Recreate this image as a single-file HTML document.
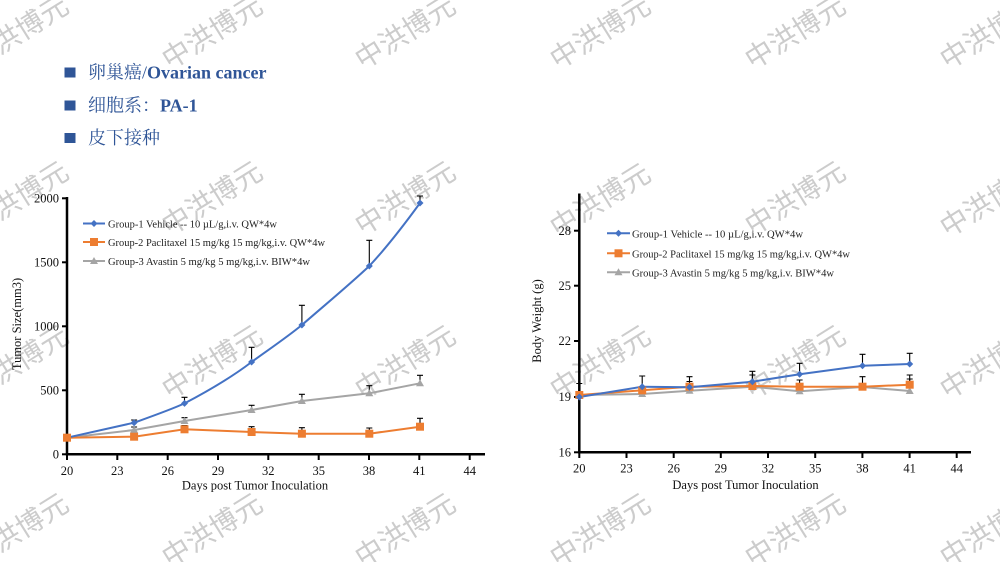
<!DOCTYPE html>
<html>
<head>
<meta charset="utf-8">
<style>
  html, body { margin: 0; padding: 0; background: #fff; }
  body { width: 1000px; height: 562px; overflow: hidden; }
  svg { display: block; }
  .wm { font-family: "Noto Sans CJK SC", "WenQuanYi Zen Hei", sans-serif; font-size: 28px; fill: #cccccc; }
  .hd { font-family: "Liberation Serif", "Noto Serif CJK SC", serif; font-size: 18px; fill: #2F5597; }
  .tk { font-family: "Liberation Serif", serif; font-size: 12.5px; fill: #111; }
  .lg { font-family: "Liberation Serif", serif; font-size: 11px; fill: #222; }
</style>
</head>
<body>
<svg width="1000" height="562" viewBox="0 0 1000 562" xmlns="http://www.w3.org/2000/svg">
  <!-- watermarks -->
  <g class="wm" text-anchor="middle">
    <text transform="translate(18,32) rotate(-32)" dy="10">中洪博元</text>
    <text transform="translate(212,32) rotate(-32)" dy="10">中洪博元</text>
    <text transform="translate(405,32) rotate(-32)" dy="10">中洪博元</text>
    <text transform="translate(600,32) rotate(-32)" dy="10">中洪博元</text>
    <text transform="translate(795,32) rotate(-32)" dy="10">中洪博元</text>
    <text transform="translate(990,32) rotate(-32)" dy="10">中洪博元</text>

    <text transform="translate(18,198) rotate(-32)" dy="10">中洪博元</text>
    <text transform="translate(212,198) rotate(-32)" dy="10">中洪博元</text>
    <text transform="translate(405,198) rotate(-32)" dy="10">中洪博元</text>
    <text transform="translate(600,200) rotate(-32)" dy="10">中洪博元</text>
    <text transform="translate(795,198) rotate(-32)" dy="10">中洪博元</text>
    <text transform="translate(990,200) rotate(-32)" dy="10">中洪博元</text>

    <text transform="translate(18,362) rotate(-32)" dy="10">中洪博元</text>
    <text transform="translate(212,362) rotate(-32)" dy="10">中洪博元</text>
    <text transform="translate(405,362) rotate(-32)" dy="10">中洪博元</text>
    <text transform="translate(600,362) rotate(-32)" dy="10">中洪博元</text>
    <text transform="translate(795,362) rotate(-32)" dy="10">中洪博元</text>
    <text transform="translate(990,362) rotate(-32)" dy="10">中洪博元</text>

    <text transform="translate(18,530) rotate(-32)" dy="10">中洪博元</text>
    <text transform="translate(212,530) rotate(-32)" dy="10">中洪博元</text>
    <text transform="translate(405,530) rotate(-32)" dy="10">中洪博元</text>
    <text transform="translate(600,530) rotate(-32)" dy="10">中洪博元</text>
    <text transform="translate(795,530) rotate(-32)" dy="10">中洪博元</text>
    <text transform="translate(990,530) rotate(-32)" dy="10">中洪博元</text>
  </g>

  <!-- header bullets -->
  <rect x="64.5" y="67.5" width="11" height="10" fill="#2F5597"/>
  <rect x="64.5" y="100.5" width="11" height="10" fill="#2F5597"/>
  <rect x="64.5" y="133" width="11" height="10" fill="#2F5597"/>
  <text class="hd" x="88" y="78.5">卵巢癌/<tspan font-weight="bold">Ovarian cancer</tspan></text>
  <text class="hd" x="88" y="111.5">细胞系：<tspan font-weight="bold">PA-1</tspan></text>
  <text class="hd" x="88" y="144">皮下接种</text>

  <!-- ============ LEFT CHART ============ -->
  <g stroke="#000" fill="none">
    <line x1="67" y1="197" x2="67" y2="455.5" stroke-width="2.5"/>
    <line x1="65.8" y1="454.3" x2="485" y2="454.3" stroke-width="2.5"/>
    <!-- y ticks -->
    <line x1="62" y1="454.3" x2="67" y2="454.3" stroke-width="2"/>
    <line x1="62" y1="390.3" x2="67" y2="390.3" stroke-width="2"/>
    <line x1="62" y1="326.3" x2="67" y2="326.3" stroke-width="2"/>
    <line x1="62" y1="262.3" x2="67" y2="262.3" stroke-width="2"/>
    <line x1="62" y1="198.3" x2="67" y2="198.3" stroke-width="2"/>
    <!-- x ticks -->
    <line x1="67" y1="454" x2="67" y2="460" stroke-width="2"/>
    <line x1="117.3" y1="454" x2="117.3" y2="460" stroke-width="2"/>
    <line x1="167.7" y1="454" x2="167.7" y2="460" stroke-width="2"/>
    <line x1="218" y1="454" x2="218" y2="460" stroke-width="2"/>
    <line x1="268.3" y1="454" x2="268.3" y2="460" stroke-width="2"/>
    <line x1="318.7" y1="454" x2="318.7" y2="460" stroke-width="2"/>
    <line x1="369" y1="454" x2="369" y2="460" stroke-width="2"/>
    <line x1="419.3" y1="454" x2="419.3" y2="460" stroke-width="2"/>
    <line x1="469.7" y1="454" x2="469.7" y2="460" stroke-width="2"/>
  </g>
  <g class="tk" text-anchor="end">
    <text x="59" y="458.5">0</text>
    <text x="59" y="394.5">500</text>
    <text x="59" y="330.5">1000</text>
    <text x="59" y="266.5">1500</text>
    <text x="59" y="202.5">2000</text>
  </g>
  <g class="tk" text-anchor="middle">
    <text x="67" y="475">20</text>
    <text x="117.3" y="475">23</text>
    <text x="167.7" y="475">26</text>
    <text x="218" y="475">29</text>
    <text x="268.3" y="475">32</text>
    <text x="318.7" y="475">35</text>
    <text x="369" y="475">38</text>
    <text x="419.3" y="475">41</text>
    <text x="469.7" y="475">44</text>
    <text x="255" y="489.5">Days post Tumor Inoculation</text>
  </g>
  <text class="tk" text-anchor="middle" font-size="12" transform="translate(21,324) rotate(-90)">Tumor Size(mm3)</text>

  <!-- left error bars -->
  <g stroke="#000" stroke-width="1.1" fill="none">
    <!-- G1 -->
    <path d="M134.1 422.7V420M131.1 420H137.1"/>
    <path d="M184.5 403.4V397.3M181.5 397.3H187.5"/>
    <path d="M251.6 362V347.3M248.6 347.3H254.6"/>
    <path d="M301.9 325V305.3M298.9 305.3H304.9"/>
    <path d="M369.3 266V240.3M366.3 240.3H372.3"/>
    <path d="M420 203V196M417 196H423"/>
    <!-- G3 -->
    <path d="M134.1 430V427M131.1 427H137.1"/>
    <path d="M184.5 421V417.7M181.5 417.7H187.5"/>
    <path d="M251.6 410V405.3M248.6 405.3H254.6"/>
    <path d="M301.9 401V394.3M298.9 394.3H304.9"/>
    <path d="M369.3 393.3V385.7M366.3 385.7H372.3"/>
    <path d="M420 383.3V375.3M417 375.3H423"/>
    <!-- G2 -->
    <path d="M184.5 429.3V425.5M181.5 425.5H187.5"/>
    <path d="M251.6 432V426.7M248.6 426.7H254.6"/>
    <path d="M301.9 433.7V427.7M298.9 427.7H304.9"/>
    <path d="M369.3 433.7V428M366.3 428H372.3"/>
    <path d="M420 426.7V418.3M417 418.3H423"/>
  </g>

  <!-- left series -->
  <polyline fill="none" stroke="#A5A5A5" stroke-width="2" points="67,437.7 134.1,430 184.5,421 251.6,410 301.9,401 369.3,393.3 420,383.3"/>
  <polyline fill="none" stroke="#ED7D31" stroke-width="2" points="67,437.7 134.1,436.7 184.5,429.3 251.6,432 301.9,433.7 369.3,433.7 420,426.7"/>
  <path fill="none" stroke="#4472C4" stroke-width="2" d="M67,437.7 L134.1,422.7 C150,417 170,410 184.5,403.4 C210,390 232,377 251.6,362 C268,350 286,338 301.9,325 C326,304 348,286 369.3,266 C388,246 404,225 420,203"/>

  <g fill="#A5A5A5">
    <path d="M67 433.7l4 7h-8z"/><path d="M134.1 426l4 7h-8z"/><path d="M184.5 417l4 7h-8z"/><path d="M251.6 406l4 7h-8z"/><path d="M301.9 397l4 7h-8z"/><path d="M369.3 389.3l4 7h-8z"/><path d="M420 379.3l4 7h-8z"/>
  </g>
  <g fill="#ED7D31">
    <rect x="63" y="433.7" width="8" height="8"/><rect x="130.1" y="432.7" width="8" height="8"/><rect x="180.5" y="425.3" width="8" height="8"/><rect x="247.6" y="428" width="8" height="8"/><rect x="297.9" y="429.7" width="8" height="8"/><rect x="365.3" y="429.7" width="8" height="8"/><rect x="416" y="422.7" width="8" height="8"/>
  </g>
  <g fill="#4472C4">
    <path d="M134.1 419.2l3.5 3.5-3.5 3.5-3.5-3.5z"/><path d="M184.5 399.9l3.5 3.5-3.5 3.5-3.5-3.5z"/><path d="M251.6 358.5l3.5 3.5-3.5 3.5-3.5-3.5z"/><path d="M301.9 321.5l3.5 3.5-3.5 3.5-3.5-3.5z"/><path d="M369.3 262.5l3.5 3.5-3.5 3.5-3.5-3.5z"/><path d="M420 199.5l3.5 3.5-3.5 3.5-3.5-3.5z"/>
  </g>

  <!-- left legend -->
  <line x1="83" y1="223.5" x2="105" y2="223.5" stroke="#4472C4" stroke-width="2"/>
  <path d="M94 220l3.5 3.5-3.5 3.5-3.5-3.5z" fill="#4472C4"/>
  <line x1="83" y1="242" x2="105" y2="242" stroke="#ED7D31" stroke-width="2"/>
  <rect x="90" y="238" width="8" height="8" fill="#ED7D31"/>
  <line x1="83" y1="261" x2="105" y2="261" stroke="#A5A5A5" stroke-width="2"/>
  <path d="M94 257l4 7h-8z" fill="#A5A5A5"/>
  <text class="lg" x="108" y="227.5" textLength="169" lengthAdjust="spacingAndGlyphs">Group-1 Vehicle -- 10 µL/g,i.v. QW*4w</text>
  <text class="lg" x="108" y="246" textLength="217" lengthAdjust="spacingAndGlyphs">Group-2 Paclitaxel 15 mg/kg 15 mg/kg,i.v. QW*4w</text>
  <text class="lg" x="108" y="265" textLength="202" lengthAdjust="spacingAndGlyphs">Group-3 Avastin 5 mg/kg 5 mg/kg,i.v. BIW*4w</text>

  <!-- ============ RIGHT CHART ============ -->
  <g stroke="#000" fill="none">
    <line x1="579.3" y1="193.5" x2="579.3" y2="453.5" stroke-width="2.5"/>
    <line x1="578" y1="452.3" x2="971" y2="452.3" stroke-width="2.5"/>
    <line x1="574" y1="452.3" x2="579" y2="452.3" stroke-width="2"/>
    <line x1="574" y1="397" x2="579" y2="397" stroke-width="2"/>
    <line x1="574" y1="341" x2="579" y2="341" stroke-width="2"/>
    <line x1="574" y1="285.7" x2="579" y2="285.7" stroke-width="2"/>
    <line x1="574" y1="230.7" x2="579" y2="230.7" stroke-width="2"/>
    <line x1="579.3" y1="452" x2="579.3" y2="458" stroke-width="2"/>
    <line x1="626.5" y1="452" x2="626.5" y2="458" stroke-width="2"/>
    <line x1="673.7" y1="452" x2="673.7" y2="458" stroke-width="2"/>
    <line x1="720.8" y1="452" x2="720.8" y2="458" stroke-width="2"/>
    <line x1="768" y1="452" x2="768" y2="458" stroke-width="2"/>
    <line x1="815.2" y1="452" x2="815.2" y2="458" stroke-width="2"/>
    <line x1="862.4" y1="452" x2="862.4" y2="458" stroke-width="2"/>
    <line x1="909.6" y1="452" x2="909.6" y2="458" stroke-width="2"/>
    <line x1="956.7" y1="452" x2="956.7" y2="458" stroke-width="2"/>
  </g>
  <g class="tk" text-anchor="end">
    <text x="571" y="456.5">16</text>
    <text x="571" y="401.2">19</text>
    <text x="571" y="345.2">22</text>
    <text x="571" y="289.9">25</text>
    <text x="571" y="234.9">28</text>
  </g>
  <g class="tk" text-anchor="middle">
    <text x="579.3" y="472.5">20</text>
    <text x="626.5" y="472.5">23</text>
    <text x="673.7" y="472.5">26</text>
    <text x="720.8" y="472.5">29</text>
    <text x="768" y="472.5">32</text>
    <text x="815.2" y="472.5">35</text>
    <text x="862.4" y="472.5">38</text>
    <text x="909.6" y="472.5">41</text>
    <text x="956.7" y="472.5">44</text>
    <text x="745.5" y="489">Days post Tumor Inoculation</text>
  </g>
  <text class="tk" text-anchor="middle" font-size="12" transform="translate(541,321) rotate(-90)">Body Weight (g)</text>

  <!-- right error bars -->
  <g stroke="#000" stroke-width="1.1" fill="none">
    <path d="M579.3 397V383.5M576.3 383.5H582.3"/>
    <path d="M642.2 386.7V376M639.2 376H645.2"/>
    <path d="M689.5 387.3V376.7M686.5 376.7H692.5"/>
    <path d="M689.5 386.7V381.5M686.5 381.5H692.5"/>
    <path d="M752.4 381.7V371.3M749.4 371.3H755.4"/>
    <path d="M752.4 386V375M749.4 375H755.4"/>
    <path d="M799.6 374.3V363.3M796.6 363.3H802.6"/>
    <path d="M799.6 386.7V380M796.6 380H802.6"/>
    <path d="M862.5 365.7V354.3M859.5 354.3H865.5"/>
    <path d="M862.5 386.7V376.7M859.5 376.7H865.5"/>
    <path d="M909.7 364V353.3M906.7 353.3H912.7"/>
    <path d="M909.7 384.7V375M906.7 375H912.7"/>
    <path d="M909.7 384.7V379M906.7 379H912.7"/>
  </g>

  <!-- right series -->
  <polyline fill="none" stroke="#A5A5A5" stroke-width="2" points="579.3,395 642.2,394 689.5,390.7 752.4,386.7 799.6,391.3 862.5,387 909.7,391"/>
  <polyline fill="none" stroke="#ED7D31" stroke-width="2" points="579.3,395 642.2,390.3 689.5,386.7 752.4,386 799.6,386.7 862.5,386.7 909.7,384.7"/>
  <polyline fill="none" stroke="#4472C4" stroke-width="2" points="579.3,397 642.2,386.7 689.5,387.3 752.4,381.7 799.6,374.3 862.5,365.7 909.7,364"/>

  <g fill="#A5A5A5">
    <path d="M579.3 391l4 7h-8z"/><path d="M642.2 390l4 7h-8z"/><path d="M689.5 386.7l4 7h-8z"/><path d="M752.4 382.7l4 7h-8z"/><path d="M799.6 387.3l4 7h-8z"/><path d="M862.5 383l4 7h-8z"/><path d="M909.7 387l4 7h-8z"/>
  </g>
  <g fill="#ED7D31">
    <rect x="575.3" y="391" width="8" height="8"/><rect x="638.2" y="386.3" width="8" height="8"/><rect x="685.5" y="382.7" width="8" height="8"/><rect x="748.4" y="382" width="8" height="8"/><rect x="795.6" y="382.7" width="8" height="8"/><rect x="858.5" y="382.7" width="8" height="8"/><rect x="905.7" y="380.7" width="8" height="8"/>
  </g>
  <g fill="#4472C4">
    <path d="M579.3 393.5l3.5 3.5-3.5 3.5-3.5-3.5z"/><path d="M642.2 383.2l3.5 3.5-3.5 3.5-3.5-3.5z"/><path d="M689.5 383.8l3.5 3.5-3.5 3.5-3.5-3.5z"/><path d="M752.4 378.2l3.5 3.5-3.5 3.5-3.5-3.5z"/><path d="M799.6 370.8l3.5 3.5-3.5 3.5-3.5-3.5z"/><path d="M862.5 362.2l3.5 3.5-3.5 3.5-3.5-3.5z"/><path d="M909.7 360.5l3.5 3.5-3.5 3.5-3.5-3.5z"/>
  </g>

  <!-- right legend -->
  <line x1="607" y1="233.3" x2="630" y2="233.3" stroke="#4472C4" stroke-width="2"/>
  <path d="M618.5 229.8l3.5 3.5-3.5 3.5-3.5-3.5z" fill="#4472C4"/>
  <line x1="607" y1="253.3" x2="630" y2="253.3" stroke="#ED7D31" stroke-width="2"/>
  <rect x="614.5" y="249.3" width="8" height="8" fill="#ED7D31"/>
  <line x1="607" y1="272.3" x2="630" y2="272.3" stroke="#A5A5A5" stroke-width="2"/>
  <path d="M618.5 268.3l4 7h-8z" fill="#A5A5A5"/>
  <text class="lg" x="632" y="237.3" textLength="171" lengthAdjust="spacingAndGlyphs">Group-1 Vehicle -- 10 µL/g,i.v. QW*4w</text>
  <text class="lg" x="632" y="257.3" textLength="218" lengthAdjust="spacingAndGlyphs">Group-2 Paclitaxel 15 mg/kg 15 mg/kg,i.v. QW*4w</text>
  <text class="lg" x="632" y="276.3" textLength="202" lengthAdjust="spacingAndGlyphs">Group-3 Avastin 5 mg/kg 5 mg/kg,i.v. BIW*4w</text>
</svg>
</body>
</html>
